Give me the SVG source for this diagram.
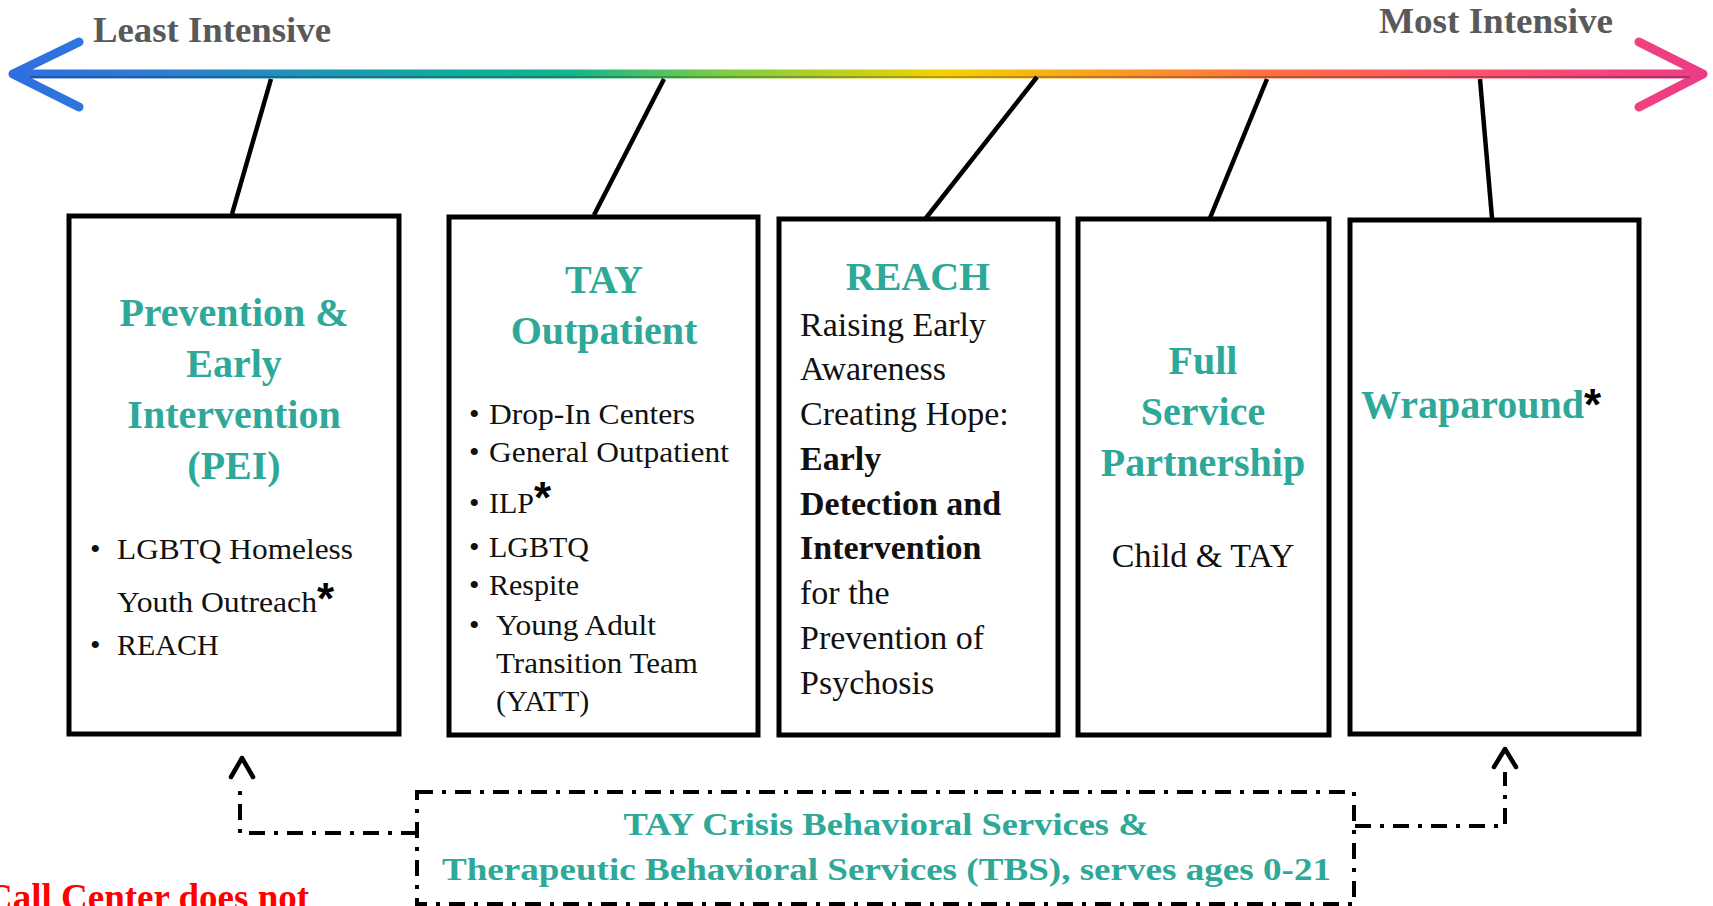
<svg xmlns="http://www.w3.org/2000/svg" width="1713" height="906" viewBox="0 0 1713 906">
<defs>
<linearGradient id="rainbow" gradientUnits="userSpaceOnUse" x1="11" y1="0" x2="1705" y2="0">
<stop offset="0" stop-color="#2f6fe0"/>
<stop offset="0.07" stop-color="#2f78d8"/>
<stop offset="0.25" stop-color="#12a8a0"/>
<stop offset="0.33" stop-color="#14b48c"/>
<stop offset="0.42" stop-color="#7ccc46"/>
<stop offset="0.55" stop-color="#f2d200"/>
<stop offset="0.64" stop-color="#f8a020"/>
<stop offset="0.74" stop-color="#ff7040"/>
<stop offset="0.85" stop-color="#ff5468"/>
<stop offset="1" stop-color="#ec3a88"/>
</linearGradient>
</defs>
<style>
.box{fill:#ffffff;stroke:#000000;stroke-width:5;}
.lead{stroke:#000000;stroke-width:4.5;fill:none;}
.head{font-family:"Liberation Serif","Times New Roman",serif;font-weight:bold;font-size:40px;fill:#2ea898;text-anchor:middle;}
.left{text-anchor:start;}
.body{font-family:"Liberation Serif","Times New Roman",serif;font-size:30px;fill:#111111;}
.reach{font-family:"Liberation Serif","Times New Roman",serif;font-size:34px;fill:#111111;}
.b{font-weight:bold;}
.ast{font-family:"Liberation Sans",Arial,sans-serif;font-weight:bold;font-size:44px;fill:#000000;}
.scale{font-family:"Liberation Serif","Times New Roman",serif;font-weight:bold;font-size:35px;fill:#595959;}
.dd{stroke:#000000;stroke-width:4;fill:none;stroke-dasharray:16 9 4 9;}
.chev{stroke:#000000;stroke-width:4.5;fill:none;stroke-linecap:round;stroke-linejoin:round;}
.bottom{font-family:"Liberation Serif","Times New Roman",serif;font-weight:bold;font-size:32px;fill:#2ea898;}
</style>

<g id="scale-arrow">
<path d="M79,42 L13,74 L79,107 M13,74 L1703,74 M1639,42 L1703,74 L1639,107" stroke="url(#rainbow)" stroke-width="9" stroke-linecap="round" stroke-linejoin="round" fill="none"/>
<line x1="30" y1="77" x2="1690" y2="77" stroke="#000" stroke-opacity="0.25" stroke-width="2"/>
<text class="scale" x="93" y="42" textLength="238" lengthAdjust="spacingAndGlyphs">Least Intensive</text>
<text class="scale" x="1379" y="33" textLength="234" lengthAdjust="spacingAndGlyphs">Most Intensive</text>
</g>

<g id="connectors">
<line class="lead" x1="271" y1="79" x2="232" y2="214"/>
<line class="lead" x1="664" y1="79" x2="594" y2="215"/>
<line class="lead" x1="1037" y1="77" x2="926" y2="218"/>
<line class="lead" x1="1267" y1="79" x2="1210" y2="218"/>
<line class="lead" x1="1480" y1="79" x2="1492" y2="218"/>
<polyline class="dd" points="417,833 240,833 240,782"/>
<polyline class="chev" points="231,777 242,758 253,777"/>
<polyline class="dd" points="1355,826 1505,826 1505,772"/>
<polyline class="chev" points="1494,767 1505,749 1516,767"/>
</g>

<g id="node-pei">
<rect class="box" x="69" y="216" width="330" height="518"/>
<text class="head" x="234" y="326">Prevention &amp;</text>
<text class="head" x="234" y="377">Early</text>
<text class="head" x="234" y="428">Intervention</text>
<text class="head" x="234" y="479">(PEI)</text>
<text class="body" x="90" y="559">•</text>
<text class="body" x="117" y="559" textLength="236" lengthAdjust="spacingAndGlyphs">LGBTQ Homeless</text>
<text class="body" x="117" y="612"><tspan textLength="200" lengthAdjust="spacingAndGlyphs">Youth Outreach</tspan><tspan class="ast" dy="2">*</tspan></text>
<text class="body" x="90" y="655">•</text>
<text class="body" x="117" y="655">REACH</text>
</g>

<g id="node-tay-outpatient">
<rect class="box" x="449" y="217" width="309" height="518"/>
<text class="head" x="604" y="293">TAY</text>
<text class="head" x="604" y="344">Outpatient</text>
<text class="body" x="469" y="424">•</text>
<text class="body" x="489" y="424" textLength="206" lengthAdjust="spacingAndGlyphs">Drop-In Centers</text>
<text class="body" x="469" y="462">•</text>
<text class="body" x="489" y="462" textLength="240" lengthAdjust="spacingAndGlyphs">General Outpatient</text>
<text class="body" x="469" y="513">•</text>
<text class="body" x="489" y="513">ILP<tspan class="ast" dy="0">*</tspan></text>
<text class="body" x="469" y="557">•</text>
<text class="body" x="489" y="557">LGBTQ</text>
<text class="body" x="469" y="595">•</text>
<text class="body" x="489" y="595">Respite</text>
<text class="body" x="469" y="635">•</text>
<text class="body" x="496" y="635" textLength="160" lengthAdjust="spacingAndGlyphs">Young Adult</text>
<text class="body" x="496" y="673" textLength="202" lengthAdjust="spacingAndGlyphs">Transition Team</text>
<text class="body" x="496" y="711">(YATT)</text>
</g>

<g id="node-reach">
<rect class="box" x="779" y="219" width="279" height="516"/>
<text class="head" x="918" y="290">REACH</text>
<text class="reach" x="800" y="336">Raising Early</text>
<text class="reach" x="800" y="380">Awareness</text>
<text class="reach" x="800" y="425">Creating Hope:</text>
<text class="reach b" x="800" y="470">Early</text>
<text class="reach b" x="800" y="515">Detection and</text>
<text class="reach b" x="800" y="559">Intervention</text>
<text class="reach" x="800" y="604">for the</text>
<text class="reach" x="800" y="649">Prevention of</text>
<text class="reach" x="800" y="694">Psychosis</text>
</g>

<g id="node-fsp">
<rect class="box" x="1078" y="219" width="251" height="516"/>
<text class="head" x="1203" y="374">Full</text>
<text class="head" x="1203" y="425">Service</text>
<text class="head" x="1203" y="476">Partnership</text>
<text class="reach" x="1203" y="567" text-anchor="middle">Child &amp; TAY</text>
</g>

<g id="node-wraparound">
<rect class="box" x="1350" y="220" width="289" height="514" stroke-width="6"/>
<text class="head left" x="1361" y="418"><tspan textLength="223" lengthAdjust="spacingAndGlyphs">Wraparound</tspan><tspan class="ast" dy="2">*</tspan></text>
</g>

<g id="node-crisis">
<rect class="dd" x="417" y="792" width="937" height="112"/>
<text class="bottom" x="886" y="835" text-anchor="middle" textLength="525" lengthAdjust="spacingAndGlyphs">TAY Crisis Behavioral Services &amp;</text>
<text class="bottom" x="442" y="880" textLength="889" lengthAdjust="spacingAndGlyphs">Therapeutic Behavioral Services (TBS), serves ages 0-21</text>
</g>

<g id="note">
<text x="-14" y="910" font-family="'Liberation Serif','Times New Roman',serif" font-weight="bold" font-size="37" fill="#ff0000">Call Center does not</text>
</g>
</svg>
